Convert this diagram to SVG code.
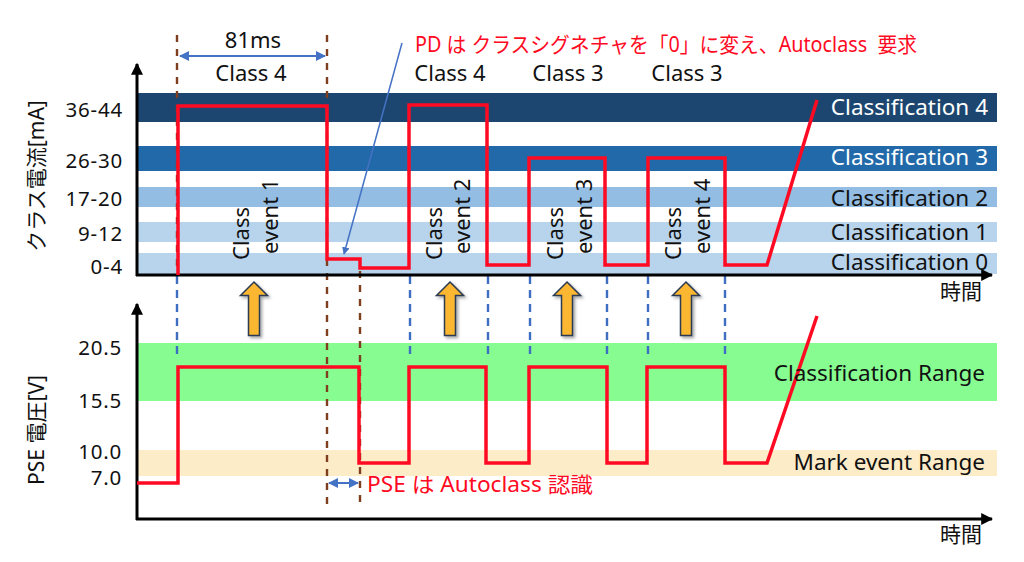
<svg xmlns="http://www.w3.org/2000/svg" width="1024" height="562" viewBox="0 0 1024 562">
<style>
text{font-family:"Noto Sans","Noto Sans CJK JP",sans-serif;}
.t{font-size:21px;fill:#111;}
.tick{font-size:20.5px;fill:#111;text-anchor:end;letter-spacing:0.8px;}
.cl{font-size:22.5px;text-anchor:end;}
.w{fill:#fff;}
.k{fill:#111;}
.red{fill:#ff0a23;font-size:21px;}
.wave{fill:none;stroke:#ff0a23;stroke-width:3.5;stroke-linejoin:miter;}
.bd{stroke:#7f3f1f;stroke-width:2.4;stroke-dasharray:7 7;fill:none;}
.bl{stroke:#3e6ec2;stroke-width:2.4;stroke-dasharray:8 6;fill:none;}
.axis{stroke:#000;stroke-width:3;fill:none;}
.ev{font-size:22px;fill:#111;}
.up{fill:#fbb630;stroke:#2b3a52;stroke-width:1.5;stroke-linejoin:miter;}
.ba{stroke:#4472c4;stroke-width:2;fill:none;}
</style>
<defs>
<marker id="ah" viewBox="0 0 10 10" refX="9" refY="5" markerWidth="5" markerHeight="5" orient="auto-start-reverse" markerUnits="strokeWidth"><path d="M0,0 L10,5 L0,10 z" fill="#4472c4"/></marker>
<marker id="ax" viewBox="0 0 10 10" refX="9" refY="5" markerWidth="4" markerHeight="4" orient="auto" markerUnits="strokeWidth"><path d="M0,0 L10,5 L0,10 z" fill="#000"/></marker>
<filter id="sh" x="-30%" y="-30%" width="160%" height="160%"><feDropShadow dx="2" dy="2" stdDeviation="1.5" flood-color="#000" flood-opacity="0.35"/></filter>
<path id="uparrow" d="M0,0 L13.5,13.5 L5.5,13.5 L5.5,53.5 L-5.5,53.5 L-5.5,13.5 L-13.5,13.5 Z"/>
</defs>
<rect width="1024" height="562" fill="#fff"/>

<g id="current-bands">
<rect x="137" y="93" width="860" height="29" fill="#1c466f"/>
<rect x="137" y="146" width="860" height="25" fill="#2169a8"/>
<rect x="137" y="187" width="860" height="20" fill="#93bde3"/>
<rect x="137" y="222" width="860" height="20" fill="#b8d4ec"/>
<rect x="137" y="253" width="860" height="21" fill="#b8d4ec"/>
</g>
<g id="voltage-bands">
<rect x="137" y="343" width="860" height="58" fill="#87fd91"/>
<rect x="137" y="450" width="860" height="26" fill="#fdecc8"/>
</g>

<g id="connectors">
<line class="bd" x1="177" y1="35" x2="177" y2="271"/>
<line class="bl" x1="177" y1="276" x2="177" y2="360"/>
<line class="bd" x1="327" y1="35" x2="327" y2="505"/>
<line class="bd" x1="360" y1="271" x2="360" y2="505"/>
<line class="bl" x1="410" y1="276" x2="410" y2="360"/>
<line class="bl" x1="488" y1="276" x2="488" y2="360"/>
<line class="bl" x1="530" y1="276" x2="530" y2="360"/>
<line class="bl" x1="607" y1="276" x2="607" y2="360"/>
<line class="bl" x1="648" y1="276" x2="648" y2="360"/>
<line class="bl" x1="725" y1="276" x2="725" y2="360"/>
<line class="ba" x1="180" y1="56" x2="325" y2="56" marker-start="url(#ah)" marker-end="url(#ah)"/>
<line class="ba" x1="329" y1="483" x2="358" y2="483" marker-start="url(#ah)" marker-end="url(#ah)"/>
<line x1="402" y1="43" x2="344" y2="254" stroke="#4472c4" stroke-width="1.5" marker-end="url(#ah)"/>
</g>

<g id="axes">
<line class="axis" x1="137" y1="276" x2="137" y2="64" marker-end="url(#ax)"/>
<line class="axis" x1="136" y1="275" x2="992" y2="275" marker-end="url(#ax)"/>
<line class="axis" x1="137" y1="520" x2="137" y2="304" marker-end="url(#ax)"/>
<line class="axis" x1="136" y1="519" x2="992" y2="519" marker-end="url(#ax)"/>
</g>

<g id="waveforms">
<path class="wave" d="M178,275 V106 H327 V259 H360 V268 H409 V105 H487 V265 H529 V158 H605 V265 H648 V158 H725 V265 H767 L817,100"/>
<path class="wave" d="M137,483 H178 V367 H359 V463 H409 V367 H486 V463 H529 V367 H607 V463 H647 V367 H725 V463 H767 L817,316"/>
</g>

<g id="event-arrows" filter="url(#sh)">
<use href="#uparrow" class="up" x="254" y="282"/>
<use href="#uparrow" class="up" x="450" y="282"/>
<use href="#uparrow" class="up" x="567" y="282"/>
<use href="#uparrow" class="up" x="686" y="282"/>
</g>

<g id="axis-labels">
<text class="t" transform="translate(44,176) rotate(-90)" text-anchor="middle">クラス電流[mA]</text>
<text class="t" transform="translate(44,430) rotate(-90)" text-anchor="middle">PSE 電圧[V]</text>
<text class="tick" x="123" y="117">36-44</text>
<text class="tick" x="123" y="168">26-30</text>
<text class="tick" x="123" y="206">17-20</text>
<text class="tick" x="123" y="241">9-12</text>
<text class="tick" x="123" y="274">0-4</text>
<text class="tick" x="122" y="355">20.5</text>
<text class="tick" x="122" y="408">15.5</text>
<text class="tick" x="122" y="459">10.0</text>
<text class="tick" x="122" y="485">7.0</text>
<text class="t" x="982" y="299" text-anchor="end">時間</text>
<text class="t" x="982" y="542" text-anchor="end">時間</text>
</g>

<g id="class-labels">
<text class="cl w" x="988" y="115">Classification 4</text>
<text class="cl w" x="988" y="165">Classification 3</text>
<text class="cl k" x="988" y="206">Classification 2</text>
<text class="cl k" x="988" y="240">Classification 1</text>
<text class="cl k" x="988" y="270">Classification 0</text>
<text class="cl k" x="985" y="381">Classification Range</text>
<text class="cl k" x="985" y="470">Mark event Range</text>
</g>

<g id="top-labels">
<text class="ev" x="253" y="48" text-anchor="middle">81ms</text>
<text class="ev" x="251" y="81" text-anchor="middle">Class 4</text>
<text class="ev" x="450" y="81" text-anchor="middle">Class 4</text>
<text class="ev" x="568" y="81" text-anchor="middle">Class 3</text>
<text class="ev" x="687" y="81" text-anchor="middle">Class 3</text>
<text class="red" x="415" y="52" xml:space="preserve" textLength="502" lengthAdjust="spacingAndGlyphs">PD は クラスシグネチャを「0」に変え、Autoclass  要求</text>
<text class="red" x="367" y="492" textLength="226" lengthAdjust="spacingAndGlyphs">PSE は Autoclass 認識</text>
</g>

<g id="event-labels">
<text class="ev" transform="translate(249,260) rotate(-90)">Class</text>
<text class="ev" transform="translate(278,254) rotate(-90)">event 1</text>
<text class="ev" transform="translate(442,260) rotate(-90)">Class</text>
<text class="ev" transform="translate(470,254) rotate(-90)">event 2</text>
<text class="ev" transform="translate(563,260) rotate(-90)">Class</text>
<text class="ev" transform="translate(592,254) rotate(-90)">event 3</text>
<text class="ev" transform="translate(681,260) rotate(-90)">Class</text>
<text class="ev" transform="translate(710,254) rotate(-90)">event 4</text>
</g>
</svg>
